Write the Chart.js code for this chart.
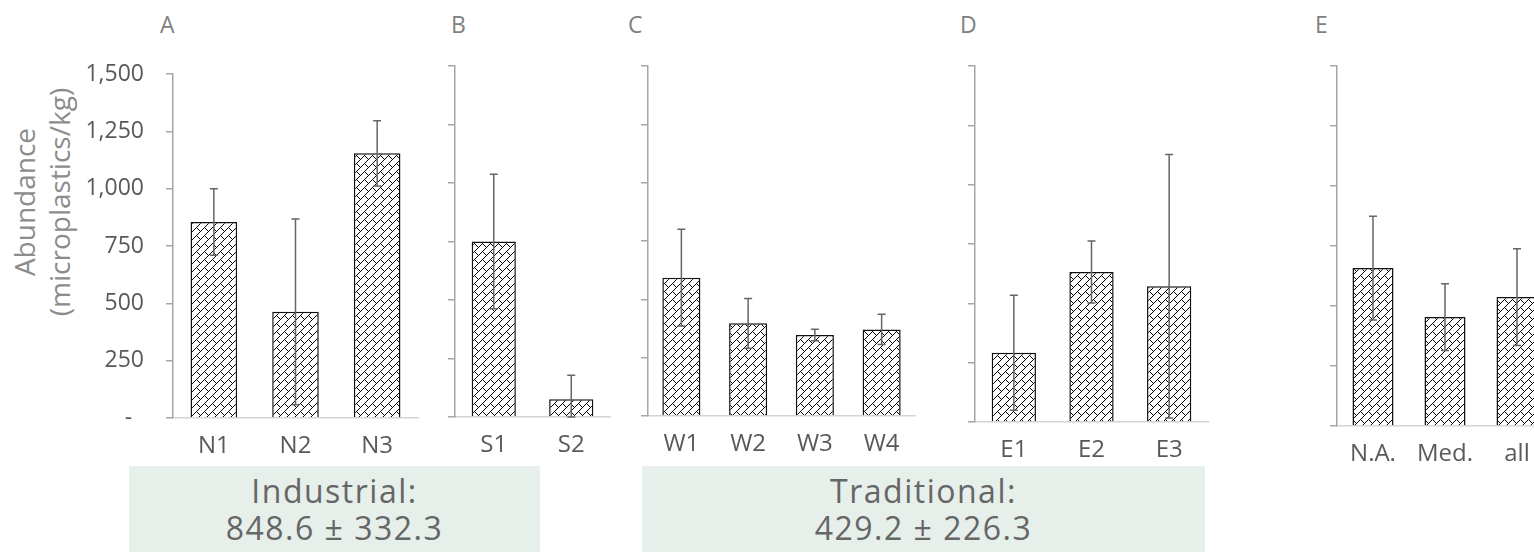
<!DOCTYPE html>
<html>
<head>
<meta charset="utf-8">
<script src="https://cdn.jsdelivr.net/npm/chart.js@4.4.1/dist/chart.umd.min.js"></script>
<style>
  body { margin: 0; width: 1534px; height: 552px; overflow: hidden; background: #fff; position: relative; font-family: 'Open Sans', sans-serif; }
  canvas { position: absolute; top: 0; }
  .letter { position: absolute; top: 13px; font-size: 23px; line-height: 23px; color: #7f7f7f; }
  .ytitle { position: absolute; left: 42px; top: 202px; width: 320px; text-align: center; font-size: 28px; line-height: 35px; color: #8c8c8c;
            transform: translate(-50%, -50%) rotate(-90deg); white-space: nowrap; }
  .box { position: absolute; top: 466px; height: 86px; background: #e6efea; color: #666; text-align: center; font-size: 32px; line-height: 37px; letter-spacing: 1.5px; padding-top: 6px; box-sizing: border-box; }
</style>
</head>
<body>
<div class="letter" style="left:160px">A</div>
<div class="letter" style="left:451px">B</div>
<div class="letter" style="left:628px">C</div>
<div class="letter" style="left:960px">D</div>
<div class="letter" style="left:1315px">E</div>
<div class="ytitle">Abundance<br>(microplastics/kg)</div>
<div class="box" style="left:129px; width:411px">Industrial:<br>848.6 ± 332.3</div>
<div class="box" style="left:642px; width:563px">Traditional:<br>429.2 ± 226.3</div>

<canvas id="chartA" width="430" height="468" style="left:0px"></canvas>
<canvas id="chartB" width="190" height="467" style="left:430px"></canvas>
<canvas id="chartC" width="305" height="466" style="left:620px"></canvas>
<canvas id="chartD" width="273" height="472" style="left:945px"></canvas>
<canvas id="chartE" width="263" height="476" style="left:1300px"></canvas>

<script>
// values (microplastics/kg), mean and error
const sitesA = ['N1', 'N2', 'N3'];
const meansA = [855, 463, 1154];
const errA = [145, 405, 142];

const sitesB = ['S1', 'S2'];
const meansB = [750, 76];
const errB = [287, 102];

const sitesC = ['W1', 'W2', 'W3', 'W4'];
const meansC = [593, 397, 347, 371];
const errC = [207, 107, 25, 65];

const sitesD = ['E1', 'E2', 'E3'];
const meansD = [292, 632, 572];
const errD = [242, 131, 555];

const sitesE = ['N.A.', 'Med.', 'all'];
const meansE = [658, 454, 537];
const errE = [216, 139, 202];

const yTickLabels = ['-  ', '250', '500', '750', '1,000', '1,250', '1,500'];

Chart.defaults.font.family = "'Open Sans', sans-serif";

// diagonal brick hatch
function hatch(ctx) {
  const tile = document.createElement('canvas');
  tile.width = 8; tile.height = 8;
  const t = tile.getContext('2d');
  t.fillStyle = '#fff';
  t.fillRect(0, 0, 8, 8);
  t.fillStyle = '#000';
  const px = [[0,7],[1,6],[2,5],[3,4],[4,3],[5,2],[6,1],[7,0],[5,4],[6,5],[7,6]];
  px.forEach(p => t.fillRect(p[0], p[1], 1, 1));
  return ctx.createPattern(tile, 'repeat');
}

const errorBars = {
  id: 'errorBars',
  afterDatasetsDraw(chart, args, opts) {
    const ctx = chart.ctx;
    const y = chart.scales.y;
    const vals = chart.data.datasets[0].data;
    ctx.save();
    ctx.strokeStyle = '#666';
    ctx.lineWidth = 1.5;
    chart.getDatasetMeta(0).data.forEach((bar, i) => {
      const top = y.getPixelForValue(vals[i] + opts.errors[i]);
      const bot = y.getPixelForValue(Math.max(0, vals[i] - opts.errors[i]));
      ctx.beginPath();
      ctx.moveTo(bar.x, top); ctx.lineTo(bar.x, bot);
      ctx.moveTo(bar.x - 4, top); ctx.lineTo(bar.x + 4, top);
      ctx.moveTo(bar.x - 4, bot); ctx.lineTo(bar.x + 4, bot);
      ctx.stroke();
    });
    ctx.restore();
  }
};

function panel(id, labels, means, errors, cfg) {
  const canvas = document.getElementById(id);
  const ctx = canvas.getContext('2d');
  new Chart(ctx, {
    type: 'bar',
    data: {
      labels: labels,
      datasets: [{
        data: means,
        backgroundColor: hatch(ctx),
        borderColor: '#111',
        borderWidth: 1.5,
        barPercentage: 0.57,
        categoryPercentage: 1
      }]
    },
    options: {
      responsive: false,
      animation: false,
      devicePixelRatio: 1,
      layout: { padding: { top: cfg.top, right: cfg.right, left: 0, bottom: 0 } },
      plugins: {
        legend: { display: false },
        tooltip: { enabled: false },
        errorBars: { errors: errors }
      },
      scales: {
        x: {
          grid: { display: false, drawTicks: false },
          border: { display: true, color: '#d4d4d4', width: 1.5 },
          ticks: { color: '#595959', font: { size: 24 }, padding: 14 },
          afterFit: s => { s.height = 50; }
        },
        y: {
          min: 0, max: 1500,
          grid: { drawOnChartArea: false, drawTicks: true, tickLength: 7, color: '#a6a6a6', lineWidth: 1.5 },
          border: { display: true, color: '#a6a6a6', width: 1.5 },
          ticks: {
            display: cfg.showTicks,
            stepSize: 250,
            color: '#595959',
            font: { size: 23 },
            padding: 22,
            callback: (v, i) => yTickLabels[i]
          },
          afterFit: s => { s.width = cfg.yw; }
        }
      }
    },
    plugins: [errorBars]
  });
}

panel('chartA', sitesA, meansA, errA, { top: 74, right: 12, yw: 173, showTicks: true });
panel('chartB', sitesB, meansB, errB, { top: 66, right: 10, yw: 25, showTicks: false });
panel('chartC', sitesC, meansC, errC, { top: 66, right: 10, yw: 28, showTicks: false });
panel('chartD', sitesD, meansD, errD, { top: 66, right: 10, yw: 30, showTicks: false });
panel('chartE', sitesE, meansE, errE, { top: 66, right: 10, yw: 37, showTicks: false });
</script>
</body>
</html>
